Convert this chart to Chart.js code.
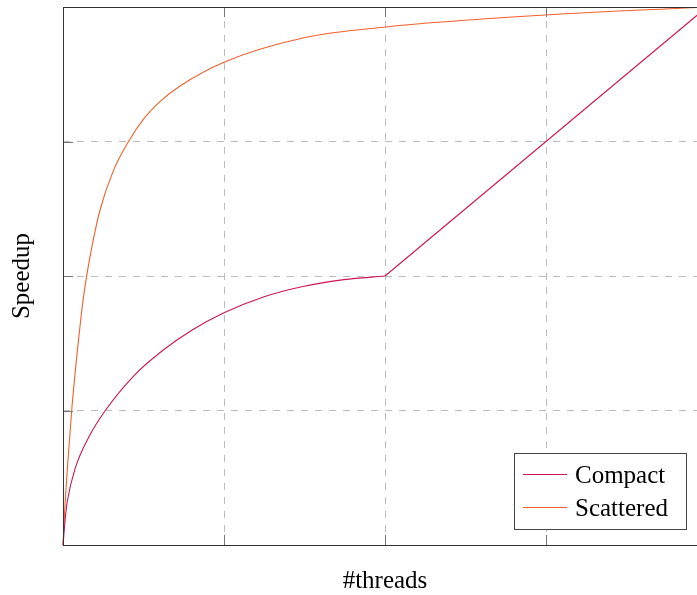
<!DOCTYPE html>
<html>
<head>
<meta charset="utf-8">
<title>Speedup</title>
<script src="https://cdn.jsdelivr.net/npm/chart.js@4.4.1/dist/chart.umd.min.js"></script>
<style>
  html, body { margin: 0; padding: 0; background: #fff; overflow: hidden; }
  #wrap { width: 720px; height: 595px; }
</style>
</head>
<body>
<div id="wrap"><canvas id="chart" width="720" height="595"></canvas></div>
<script>
// values (x = threads, y = speedup, in grid units)
const compactX = [0, 0.0145, 0.027, 0.077, 0.159, 0.263, 0.44, 0.615, 0.8, 1.0, 1.245, 1.49, 1.745, 2.0];
const compactY = [0, 0.203, 0.327, 0.575, 0.80, 1.0, 1.258, 1.442, 1.596, 1.726, 1.844, 1.922, 1.973, 2.0];
const compactLinX = [2.0, 4.0];
const compactLinY = [2.0, 4.0];
const scatteredX = [0, 0.008, 0.029, 0.056, 0.105, 0.134, 0.18, 0.232, 0.312, 0.407, 0.499, 0.605, 0.729, 1.0, 1.49, 1.99, 2.99, 4.0];
const scatteredY = [0, 0.2, 0.6, 1.03, 1.62, 1.9, 2.22, 2.5, 2.78, 3.0, 3.165, 3.30, 3.415, 3.59, 3.77, 3.85, 3.94, 4.0];
const tickValues = [1, 2, 3];

const COMPACT = '#cc1650';
const SCATTERED = '#f2602c';
const SERIF = "'Liberation Serif', 'DejaVu Serif', serif";

const pts = (xs, ys) => xs.map((x, i) => ({ x, y: ys[i] }));

// inner ticks, frame and legend box like pgfplots
const framePlugin = {
  id: 'frame',
  afterDatasetsDraw(chart) {
    const { ctx, chartArea: a, scales } = chart;
    const len = 10;
    ctx.save();
    ctx.strokeStyle = '#777';
    ctx.lineWidth = 1;
    ctx.beginPath();
    tickValues.forEach(v => {
      const px = Math.round(scales.x.getPixelForValue(v)) + 0.5;
      ctx.moveTo(px, a.top); ctx.lineTo(px, a.top + len);
      ctx.moveTo(px, a.bottom); ctx.lineTo(px, a.bottom - len);
      const py = Math.round(scales.y.getPixelForValue(v)) + 0.5;
      ctx.moveTo(a.left, py); ctx.lineTo(a.left + len, py);
      ctx.moveTo(a.right, py); ctx.lineTo(a.right - len, py);
    });
    ctx.stroke();
    ctx.strokeStyle = '#333';
    ctx.strokeRect(a.left + 0.5, a.top + 0.5, a.right - a.left, a.bottom - a.top);
    ctx.restore();
  },
  afterDraw(chart) {
    const { ctx, chartArea: a } = chart;
    const items = chart.data.datasets.filter(d => !d.hideInLegend);
    const bw = 172, bh = 76;
    const bx = a.right - 21 - bw, by = a.bottom - 16 - bh;
    ctx.save();
    ctx.fillStyle = '#fff';
    ctx.fillRect(bx, by, bw, bh);
    ctx.strokeStyle = '#444';
    ctx.lineWidth = 1;
    ctx.strokeRect(bx + 0.5, by + 0.5, bw, bh);
    ctx.font = '25px ' + SERIF;
    ctx.textBaseline = 'alphabetic';
    items.forEach((d, i) => {
      const ly = by + 21.5 + i * 33;
      ctx.strokeStyle = d.borderColor;
      ctx.beginPath();
      ctx.moveTo(bx + 9, ly); ctx.lineTo(bx + 53, ly);
      ctx.stroke();
      ctx.fillStyle = '#000';
      ctx.fillText(d.label, bx + 61, ly + 8);
    });
    ctx.restore();
  }
};

new Chart(document.getElementById('chart'), {
  type: 'line',
  data: {
    datasets: [
      {
        label: 'Compact',
        data: pts(compactX, compactY),
        borderColor: COMPACT,
        borderWidth: 1.1,
        pointRadius: 0,
        cubicInterpolationMode: 'monotone'
      },
      {
        label: 'Compact (linear part)',
        hideInLegend: true,
        data: pts(compactLinX, compactLinY),
        borderColor: COMPACT,
        borderWidth: 1.1,
        pointRadius: 0,
        tension: 0
      },
      {
        label: 'Scattered',
        data: pts(scatteredX, scatteredY),
        borderColor: SCATTERED,
        borderWidth: 1.1,
        pointRadius: 0,
        cubicInterpolationMode: 'monotone'
      }
    ]
  },
  options: {
    responsive: false,
    animation: false,
    parsing: false,
    clip: false,
    layout: { padding: { top: 7, right: 13, left: 0, bottom: 0 } },
    plugins: { legend: { display: false }, tooltip: { enabled: false } },
    scales: {
      x: {
        type: 'linear', min: 0, max: 4,
        ticks: { display: false, stepSize: 1 },
        grid: { color: '#bdbdbd', lineWidth: 1, drawTicks: false },
        border: { display: false, dash: [7, 7] },
        title: {
          display: true, text: '#threads', color: '#000',
          font: { family: SERIF, size: 25, lineHeight: 1 },
          padding: { top: 0, bottom: 1 }
        },
        afterFit: s => { s.height = 50; }
      },
      y: {
        type: 'linear', min: 0, max: 4,
        ticks: { display: false, stepSize: 1 },
        grid: { color: '#bdbdbd', lineWidth: 1, drawTicks: false },
        border: { display: false, dash: [7, 7] },
        title: {
          display: true, text: 'Speedup', color: '#000',
          font: { family: SERIF, size: 25, lineHeight: 1 },
          padding: { top: 10, bottom: 0 }
        },
        afterFit: s => { s.width = 63; }
      }
    }
  },
  plugins: [framePlugin]
});
</script>
</body>
</html>
